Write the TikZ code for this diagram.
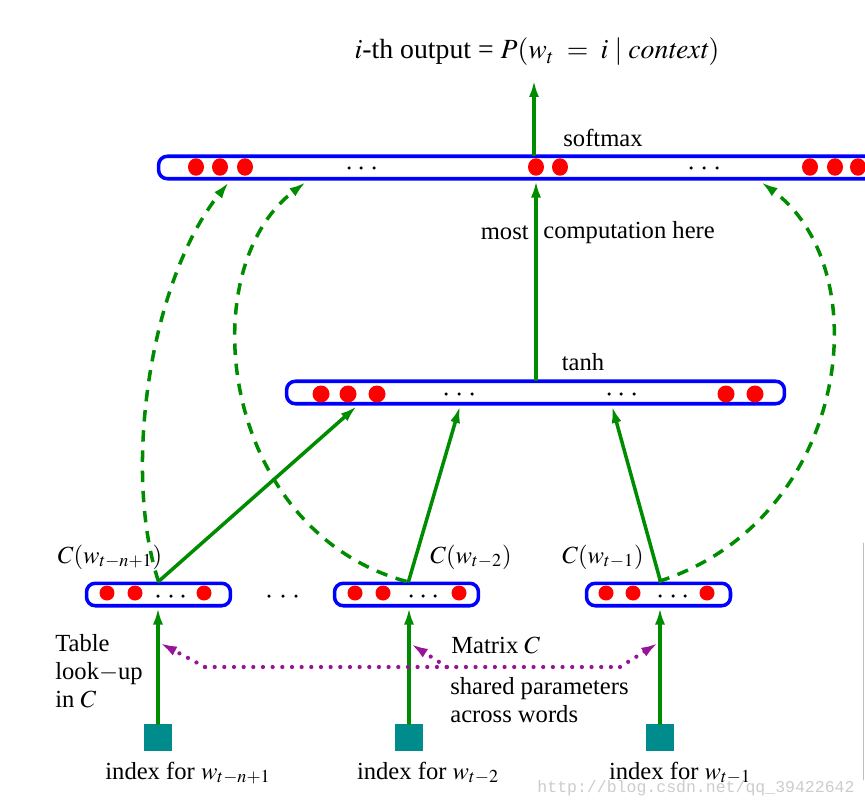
\documentclass[tikz,border=0pt]{standalone}
\usepackage{mathptmx}
\usepackage{fontspec}
\setmainfont{Liberation Serif}
\newfontfamily\markfont{Liberation Mono}
\usepackage{tikz}
\usetikzlibrary{arrows.meta}
\usetikzlibrary{positioning}
\definecolor{netgreen}{RGB}{0,140,0}
\definecolor{netblue}{RGB}{0,0,255}
\definecolor{unitred}{RGB}{255,0,0}
\definecolor{idxteal}{RGB}{0,140,140}
\definecolor{sharepurple}{RGB}{150,20,150}

\begin{document}
\begin{tikzpicture}[line cap=round,line join=round,x=0.02cm,y=-0.02cm,
  >={Latex[length=3.4mm,width=2mm]},
  every node/.style={font=\fontsize{14}{16}\selectfont,inner sep=0pt},
  layer/.style={draw=netblue,line width=2pt,rounded corners=5pt,fill=white,minimum height=0.45cm},
  feed/.style={draw=netgreen,line width=2pt,->},
  skip/.style={feed,dash pattern=on 6.5pt off 5pt,line cap=butt},
  share/.style={draw=sharepurple,line width=2.4pt,dash pattern=on 0pt off 5.5pt,->},
  idx/.style={fill=idxteal,minimum size=0.55cm}]
\useasboundingbox (0,0) rectangle (865,804);
\node[layer,minimum width=14.5cm] (soft) at (521,167.5) {};
\node[layer,minimum width=9.96cm] (hid) at (535.5,392.5) {};
\node[layer,minimum width=2.88cm] (emb1) at (158.5,594.5) {};
\node[layer,minimum width=2.88cm] (emb2) at (406.5,594.5) {};
\node[layer,minimum width=2.88cm] (emb3) at (658.5,594.5) {};
\foreach \x in {196,220,245,536,560,810,835,858} \fill[unitred] (\x,167) ellipse (0.16cm and 0.175cm);
\foreach \x in {321,348,377,726,755} \fill[unitred] (\x,394) circle (0.17cm);
\foreach \x in {107,135,204,355,383,459,606,633,707} \fill[unitred] (\x,593) circle (0.15cm);
\foreach \x in {349,361,374,691,704,717} \fill (\x,168) circle (0.035cm);
\foreach \x in {446,459,472,609,621,634} \fill (\x,394) circle (0.035cm);
\foreach \x in {158,171,183,411,423,435,660,673,685,269,283,296} \fill (\x,596) circle (0.035cm);
\node[idx] (sq1) at (158,737.5) {};
\node[idx] (sq2) at (409,737.5) {};
\node[idx] (sq3) at (660,737.5) {};
\node[font=\fontsize{15.8}{18}\selectfont] (out) at (537,52) {$i$-th output = $P(w_t \;=\; i \mid \mathit{context})$};
\coordinate (top) at (534,80);
\node (smx) at (603,138) {softmax};
\node[anchor=east] (most) at (529,233) {most};
\node[anchor=west] (comp) at (543,233) {computation here};
\node (th) at (583,362) {tanh};
\node (c1) at (110,557) {$C(w_{t-n+1})$};
\node (c2) at (471,557) {$C(w_{t-2})$};
\node (c3) at (603,557) {$C(w_{t-1})$};
\node[align=left,anchor=north west] (look) at (55,634) {Table\\ look$-$up\\ in $C$};
\node[anchor=west] (mat) at (451,645) {Matrix $C$};
\node[align=left,anchor=north west] (shr) at (450,677) {shared parameters\\across words};
\node (i1) at (188,773) {index for $w_{t-n+1}$};
\node (i2) at (428,773) {index for $w_{t-2}$};
\node (i3) at (680,773) {index for $w_{t-1}$};
\node[text=black!20,font=\markfont\fontsize{9.4}{11}\selectfont] (mark) at (696,788) {http://blog.csdn.net/qq\_39422642};
\draw[black!25,line width=0.5pt] (863,543) -- (863,780);
\coordinate (h1) at (357,406);
\coordinate (h2) at (460,406);
\coordinate (h3) at (612,406);
\coordinate (s1) at (229,182);
\coordinate (s2) at (306,182);
\coordinate (s3) at (761,182);
\draw[feed] (soft.north -| top) -- (top);
\draw[feed] (hid.north -| soft.south) ++(15,0) -- (soft.south -| 536,0);
\draw[feed] (emb1.north) -- (h1);
\draw[feed] (emb2.north) ++(2,0) -- (h2);
\draw[feed] (emb3.north) ++(2,0) -- (h3);
\draw[feed] (sq1.north) -- (sq1.north |- emb1.south);
\draw[feed] (sq2.north) -- (sq2.north |- emb2.south);
\draw[feed] (sq3.north) -- (sq3.north |- emb3.south);
\draw[skip] (emb1.north) .. controls (122,470) and (150,280) .. (s1);
\draw[skip] (emb2.north) .. controls (220,530) and (190,270) .. (s2);
\draw[skip] (emb3.north) .. controls (850,520) and (880,270) .. (s3);
\coordinate (m1) at (160,643);
\coordinate (m2) at (411,644);
\coordinate (m3) at (658,643);
\coordinate (p1) at (205,667);
\coordinate (p2) at (447,667);
\coordinate (p3) at (620,667);
\draw[share] (p1) -- (m1);
\draw[share] (p3) -- (m3);
\draw[share] (p2) -- (m2);
\draw[share,-] (p1) -- (p3);
\end{tikzpicture}
\end{document}
